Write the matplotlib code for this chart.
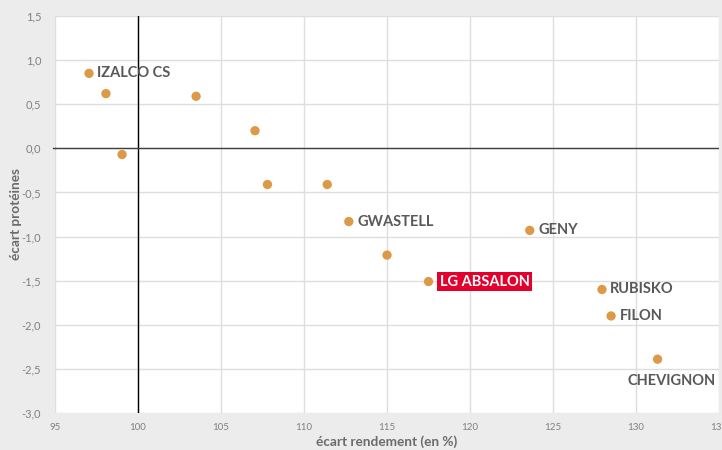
import matplotlib
matplotlib.use("Agg")
import matplotlib.pyplot as plt
from matplotlib.ticker import FuncFormatter

# Data
names = ["IZALCO CS", "", "", "", "", "", "", "GWASTELL", "", "LG ABSALON",
         "GENY", "RUBISKO", "FILON", "CHEVIGNON"]
rendement = [97.05, 98.07, 99.04, 103.5, 107.05, 107.8, 111.4, 112.7, 115.0,
             117.5, 123.6, 127.95, 128.5, 131.3]
proteines = [0.85, 0.62, -0.07, 0.59, 0.20, -0.41, -0.41, -0.83, -1.21,
             -1.51, -0.93, -1.60, -1.90, -2.39]
x_ticks = [95, 100, 105, 110, 115, 120, 125, 130, 135]
y_ticks = [-3.0, -2.5, -2.0, -1.5, -1.0, -0.5, 0.0, 0.5, 1.0, 1.5]

plt.rcParams['font.family'] = ['Lato', 'DejaVu Sans']

fig = plt.figure(figsize=(7.22, 4.5), dpi=100, facecolor='#ececec')
ax = fig.add_axes([55/722, 37/450, 664/722, 397/450])
ax.set_facecolor('white')

ax.set_xlim(95, 135)
ax.set_ylim(-3.0, 1.5)
ax.set_xticks(x_ticks)
ax.set_yticks(y_ticks)
ax.xaxis.set_major_formatter(FuncFormatter(lambda v, p: f"{v:.0f}"))
ax.yaxis.set_major_formatter(FuncFormatter(lambda v, p: f"{v:.1f}".replace('.', ',')))
ax.tick_params(axis='both', length=0, colors='#808080')
ax.tick_params(axis='x', labelsize=7, pad=7)
ax.tick_params(axis='y', labelsize=8, pad=10)
for s in ax.spines.values():
    s.set_visible(False)
ax.grid(True, color='#dedede', linewidth=1)
ax.set_axisbelow(True)
ax.axvline(100, color='black', linewidth=1, zorder=2)
ax.axhline(0, color='#404040', linewidth=1, zorder=2)
ax.plot([94.85, 95], [0, 0], color='#404040', linewidth=1, clip_on=False, zorder=2)

ax.scatter(rendement, proteines, s=45, color='#dc9a48', zorder=3, edgecolors='none')

label_color = '#595959'
for n, x, y in zip(names, rendement, proteines):
    if not n:
        continue
    if n == "LG ABSALON":
        ax.annotate(n, (x, y), xytext=(8, 0), textcoords='offset points',
                    ha='left', va='center', fontsize=10.5, fontweight='bold', color='white',
                    bbox=dict(boxstyle='square,pad=0.2', fc='#e3002c', ec='none'), zorder=4)
    elif n == "CHEVIGNON":
        ax.annotate(n, (x, y), xytext=(10, -16), textcoords='offset points',
                    ha='center', va='center', fontsize=10.5, fontweight='bold', color=label_color, zorder=4)
    else:
        ax.annotate(n, (x, y), xytext=(6, 0), textcoords='offset points',
                    ha='left', va='center', fontsize=10.5, fontweight='bold', color=label_color, zorder=4)

fig.text(387/722, 1 - 442/450, "écart rendement (en %)", ha='center', va='center',
         fontsize=9.8, fontweight='bold', color='#6b6b6b')
fig.text(16/722, 1 - 214/450, "écart protéines", ha='center', va='center', rotation=90,
         fontsize=9.8, fontweight='bold', color='#6b6b6b')

fig.savefig('out.png', dpi=100, facecolor=fig.get_facecolor())
